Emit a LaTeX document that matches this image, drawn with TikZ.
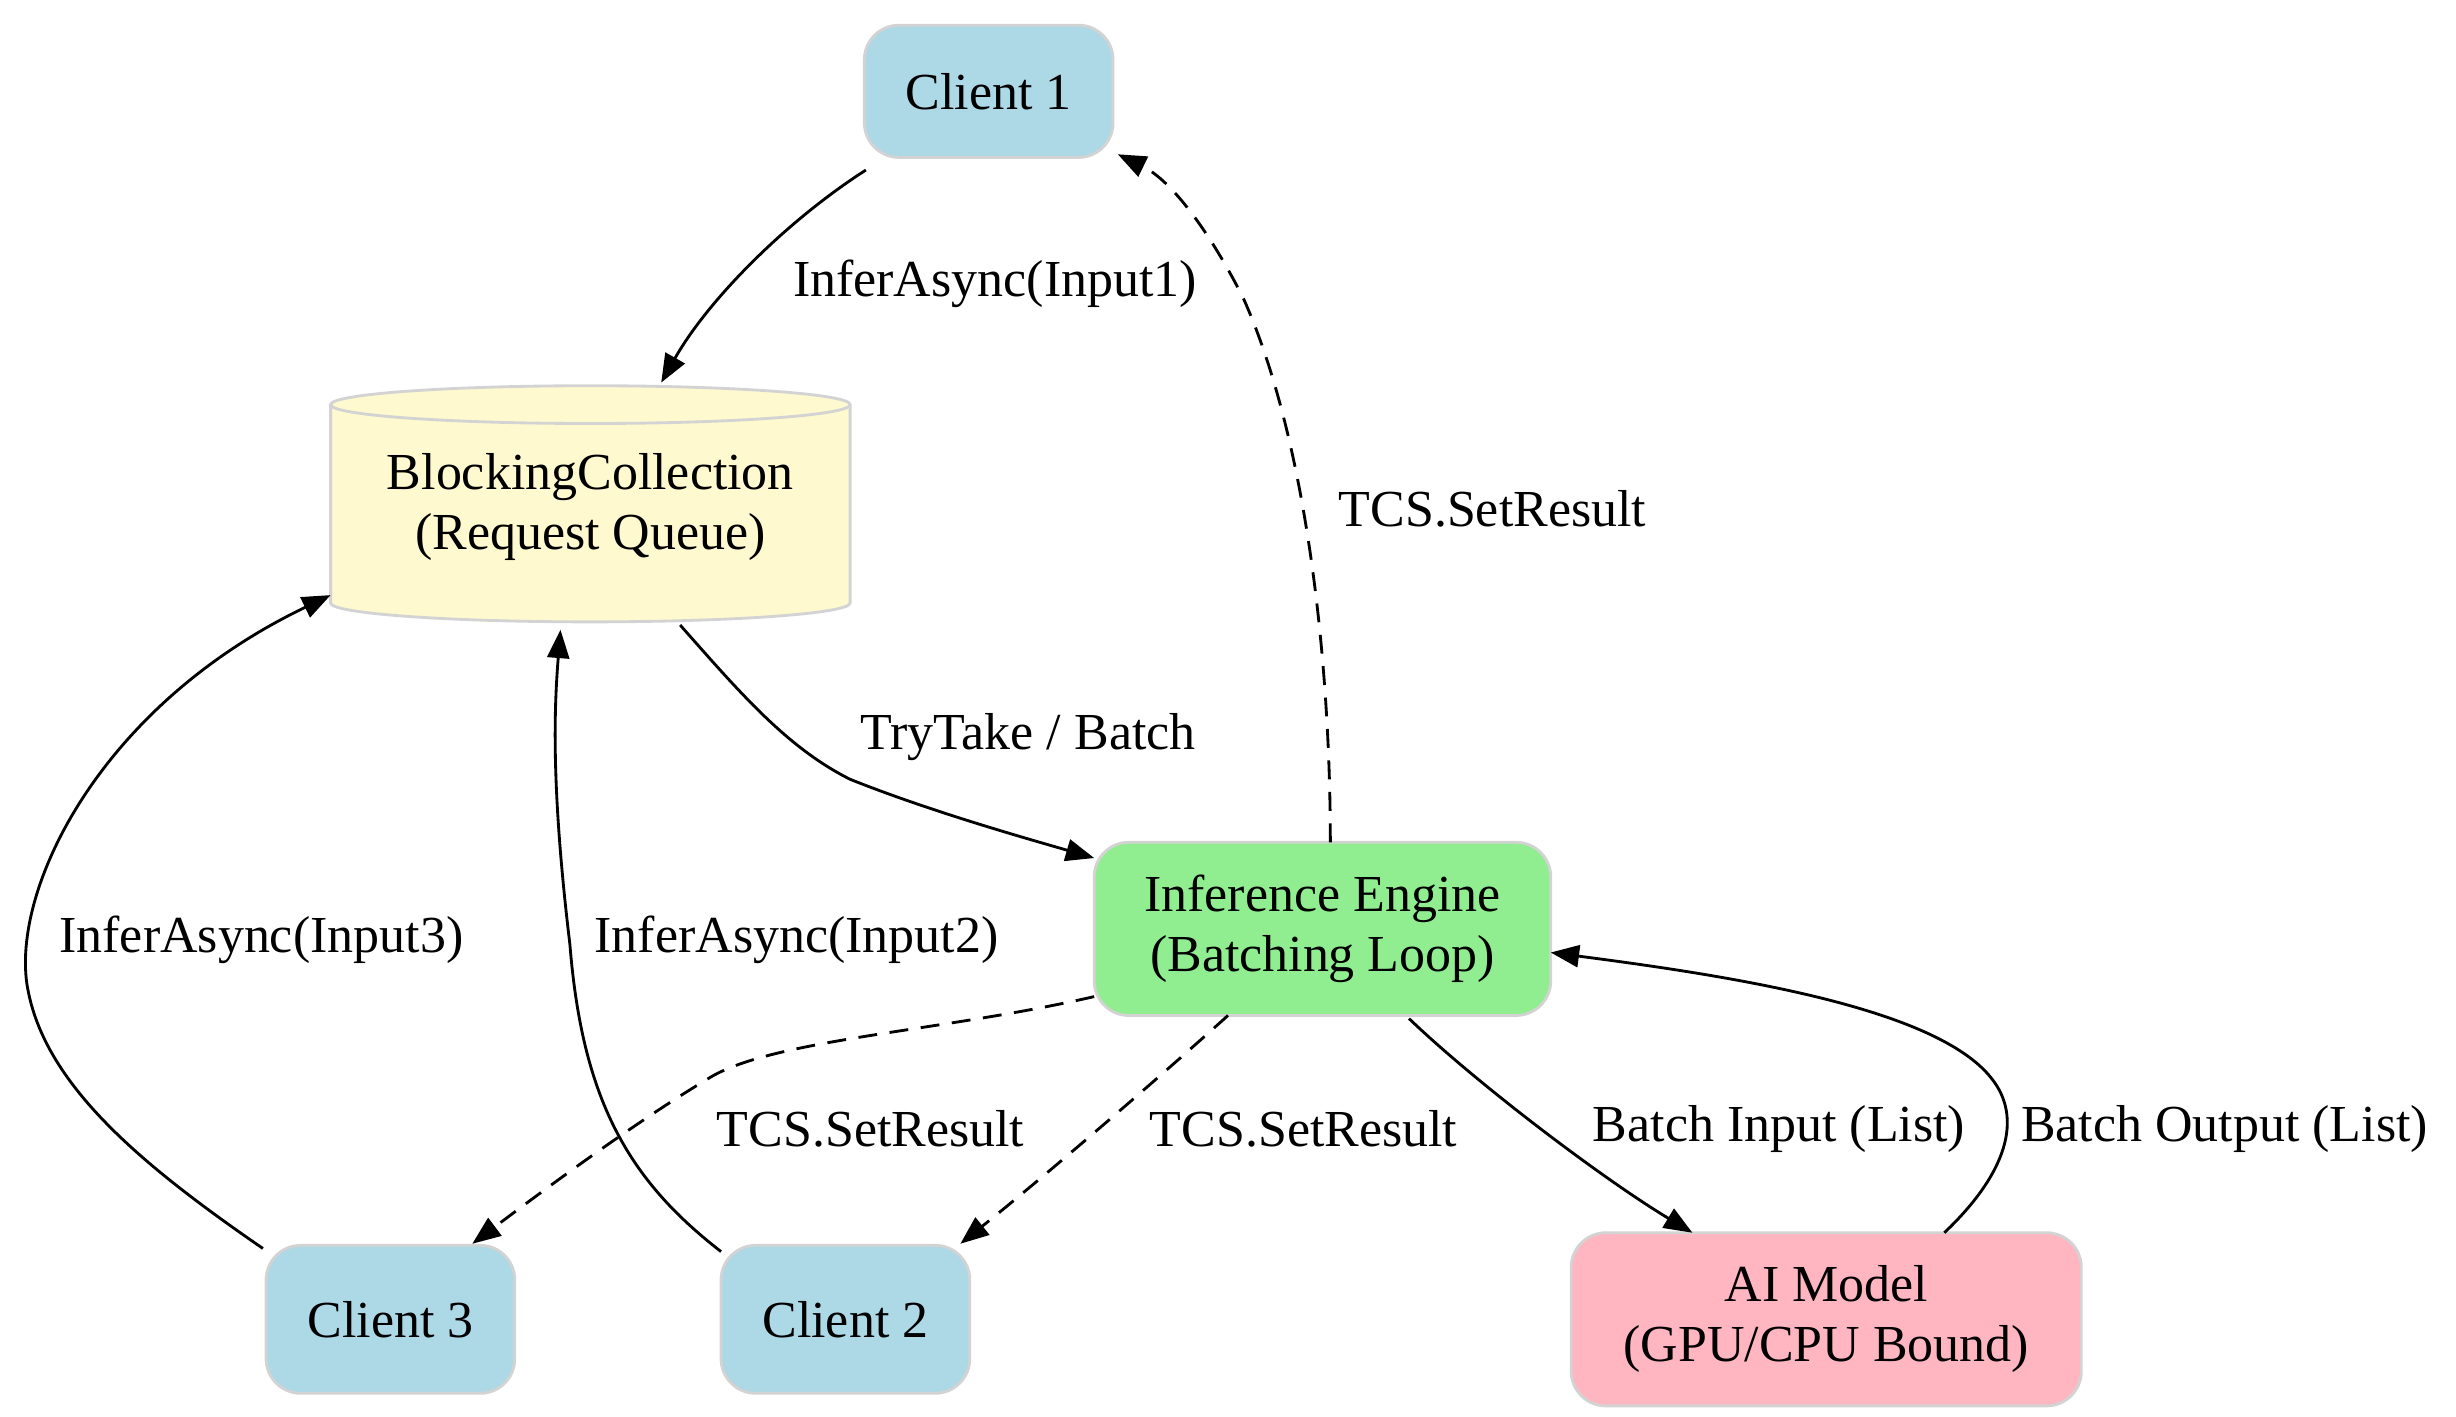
\documentclass[tikz,border=0pt]{standalone}
\usepackage{fontspec}
\setmainfont{Liberation Serif}
\usetikzlibrary{arrows.meta}
\definecolor{cblue}{HTML}{ADD8E6}
\definecolor{cyel}{HTML}{FFF9CF}
\definecolor{cgreen}{HTML}{90EE90}
\definecolor{cpink}{HTML}{FFB6C1}
\definecolor{bord}{HTML}{D3D3D3}
\begin{document}
\begin{tikzpicture}[x=0.5pt,y=-0.5pt,
  font=\fontsize{16.5}{19}\selectfont,
  box/.style={draw=bord,line width=0.9pt,rounded corners=11pt,align=center,inner sep=0pt},
  arr/.style={-{Triangle[length=9pt,width=7pt]},line width=0.9pt},
  dsh/.style={arr,dash pattern=on 6pt off 4pt},
  lab/.style={inner sep=1pt}]
\useasboundingbox (0,0) rectangle (1560,900);
\node[box,fill=cblue,minimum width=79pt,minimum height=42pt] (c1) at (628,58) {Client 1};
\node[box,fill=cblue,minimum width=79pt,minimum height=47pt] (c3) at (248,838) {Client 3};
\node[box,fill=cblue,minimum width=79pt,minimum height=47pt] (c2) at (537,838) {Client 2};
\node[box,fill=cgreen,minimum width=145pt,minimum height=55pt] (ie) at (840,590) {Inference Engine\\(Batching Loop)};
\node[box,fill=cpink,minimum width=162pt,minimum height=55pt] (ai) at (1160,838) {AI Model\\(GPU/CPU Bound)};
% cylinder
\fill[cyel] (210,257) -- (210,383) arc[start angle=180,end angle=360,x radius=165,y radius=-12] -- (540,257) arc[start angle=0,end angle=180,x radius=165,y radius=-12] -- cycle;
\draw[bord,line width=0.9pt] (210,257) -- (210,383) arc[start angle=180,end angle=360,x radius=165,y radius=-12] -- (540,257) arc[start angle=0,end angle=180,x radius=165,y radius=-12] -- cycle;
\draw[bord,line width=0.9pt] (210,257) arc[start angle=180,end angle=360,x radius=165,y radius=-12];
\node[align=center,minimum width=165pt,minimum height=75pt,inner sep=0pt] (bc) at (375,322) {BlockingCollection\\(Request Queue)};
% edges
\draw[arr] (550,108) .. controls (500,140) and (450,190) .. (420,243);
\node[lab] (l1) at (632,180) {InferAsync(Input1)};
\draw[dsh] (845,535) .. controls (845,420) and (830,280) .. (790,190) .. controls (770,150) and (745,115) .. (710,98);
\node[lab] (l2) at (948,323) {TCS.SetResult};
\draw[arr] (432,397) .. controls (470,440) and (500,475) .. (540,495) .. controls (590,515) and (650,532) .. (695,545);
\node[lab] (l3) at (653,468) {TryTake / Batch};
\draw[arr] (167,793) .. controls (90,740) and (30,690) .. (18,630) .. controls (5,570) and (60,450) .. (210,378);
\node[lab] (l4) at (166,597) {InferAsync(Input3)};
\draw[arr] (458,795) .. controls (400,750) and (370,700) .. (362,600) .. controls (350,500) and (352,450) .. (356,400);
\node[lab] (l5) at (506,597) {InferAsync(Input2)};
\draw[dsh] (695,633) .. controls (600,655) and (490,660) .. (450,685) .. controls (400,715) and (340,760) .. (300,790);
\node[lab] (l6) at (553,717) {TCS.SetResult};
\draw[dsh] (780,645) .. controls (730,690) and (660,750) .. (610,790);
\node[lab] (l7) at (828,717) {TCS.SetResult};
\draw[arr] (895,647) .. controls (940,690) and (1020,750) .. (1075,783);
\node[lab] (l8) at (1130,717) {Batch Input (List)};
\draw[arr] (1235,783) .. controls (1275,745) and (1285,710) .. (1265,685) .. controls (1230,640) and (1100,620) .. (985,605);
\node[lab] (l9) at (1413,717) {Batch Output (List)};
\end{tikzpicture}
\end{document}
